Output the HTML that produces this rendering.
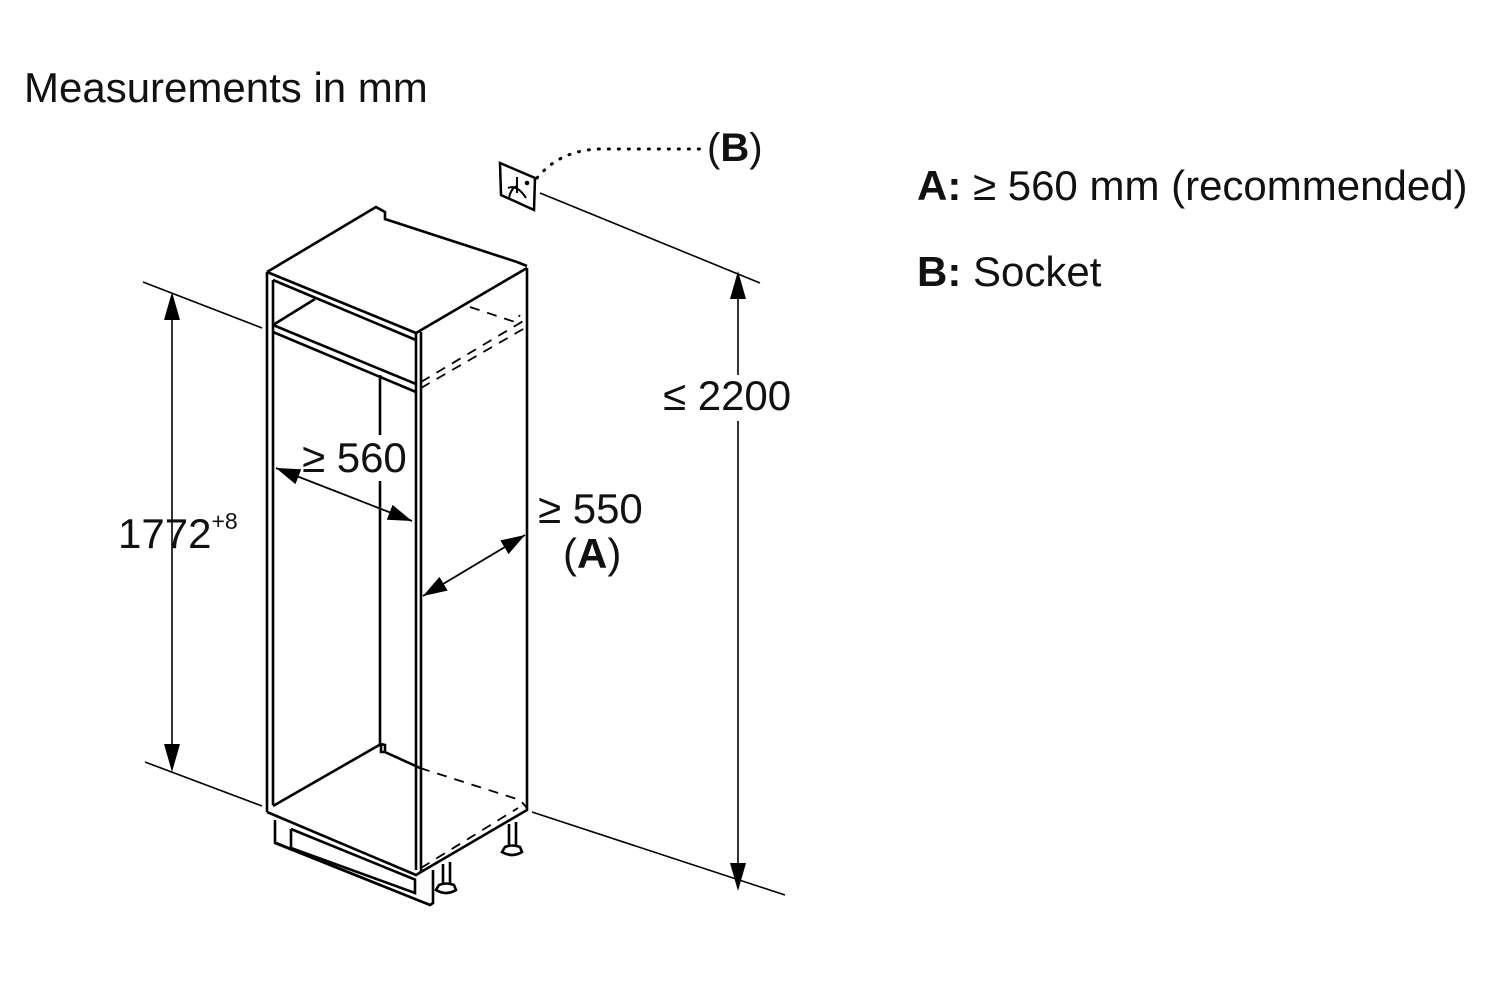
<!DOCTYPE html>
<html><head><meta charset="utf-8"><style>
html,body{margin:0;padding:0;background:#fff;}
svg{display:block}
text{font-family:"Liberation Sans",Arial,sans-serif;fill:#111}
</style></head><body>
<svg width="1500" height="1000" viewBox="0 0 1500 1000" xmlns="http://www.w3.org/2000/svg">
<defs>
<marker id="ar" viewBox="0 0 10 10" refX="10" refY="5" markerWidth="24" markerHeight="16" markerUnits="userSpaceOnUse" orient="auto-start-reverse" preserveAspectRatio="none">
<path d="M0,0 L10,5 L0,10 z" fill="#000"/></marker>
</defs>

<g stroke="#000" fill="none" stroke-width="1.6">
<!-- dimension lines -->
<line x1="143" y1="282" x2="262" y2="328"/>
<line x1="145" y1="762" x2="262" y2="806"/>
<line x1="172" y1="760" x2="172" y2="306"/>
<path d="M172,292 L164,320 L180,320 z" fill="#000" stroke="none"/>
<path d="M172,772 L164,744 L180,744 z" fill="#000" stroke="none"/>
<line x1="540" y1="193" x2="760" y2="283"/>
<line x1="532" y1="812" x2="785" y2="895"/>
<line x1="738" y1="285" x2="738" y2="878"/>
<path d="M738,271 L730,299 L746,299 z" fill="#000" stroke="none"/>
<path d="M738,891 L730,863 L746,863 z" fill="#000" stroke="none"/>
<!-- socket -->
<path d="M500,163 L535,178 L534,210 L501,195 Z" stroke-width="2.5"/>
<path d="M517,177 L517,193 M508,188 Q517,184 526,198 M509,198 Q511,188 517,186" stroke-width="2"/>
<circle cx="527" cy="183" r="1.5" fill="#000"/>
<path d="M537,178 Q560,150 600,149 L705,149" stroke-width="3" stroke-dasharray="1 9" stroke-linecap="round"/>
</g>

<g stroke="#000" fill="none" stroke-width="2.6" stroke-linejoin="miter">
<path d="M267,272 L376,207 L385,212 L385,219 L517,262 L527,266"/>
<path d="M267,272 L416,333 L527,268"/>
<path d="M267,272 L267,812 M273,280 L273,805"/>
<path d="M273,280 L416,340"/>
<path d="M416,333 L416,870 M421,332 L421,872"/>
<path d="M527,268 L527,810 L421,872"/>
<path d="M267,812 L416,875 L421,872"/>
<path d="M273,325 L315,299 M273,325 L416,384 M273,332 L416,392"/>
<path d="M380,375 L380,745"/>
<path d="M273,806 L381,744 L385,745 L385,752 L420,768 M381,744 L381,752 L385,752"/>
<path d="M275,820 L275,843 L430,905 L433,903 L433,870 M276,843 L430,905"/>
<path d="M291,829 L291,848 L415,893 L415,880 M291,829 L416,880"/>
<path d="M443,864 L443,885 M450,862 L450,885 M439,885 Q446,882 454,885 L456,890 Q446,896 436,890 Z"/>
<path d="M509,824 L509,847 M516,822 L516,847 M505,847 Q512,844 520,847 L522,852 Q512,858 502,852 Z"/>
</g>
<g stroke="#000" fill="none" stroke-width="1.8" stroke-dasharray="10 8">
<path d="M470,307 L515,322 L520,315"/>
<path d="M421,382 L525,320 M421,388 L525,328"/>
<path d="M420,768 L520,800 L527,808"/>
<path d="M421,868 L518,808"/>
</g>
<!-- label backgrounds -->
<rect x="660" y="375" width="135" height="46" fill="#fff"/>
<rect x="300" y="435" width="110" height="46" fill="#fff"/>
<g stroke="#000" stroke-width="1.8">
<line x1="276" y1="468" x2="412" y2="521" marker-start="url(#ar)" marker-end="url(#ar)"/>
<line x1="423" y1="596" x2="525" y2="535" marker-start="url(#ar)" marker-end="url(#ar)"/>
</g>

<text x="24" y="102" font-size="42">Measurements in mm</text>
<text x="707" y="161" font-size="40"><tspan>(</tspan><tspan font-weight="bold">B</tspan><tspan>)</tspan></text>
<text x="917" y="200" font-size="42"><tspan font-weight="bold">A:</tspan> ≥ 560 mm (recommended)</text>
<text x="917" y="286" font-size="42"><tspan font-weight="bold">B:</tspan> Socket</text>
<text x="663" y="410" font-size="42">≤ 2200</text>
<text x="302" y="472" font-size="42">≥ 560</text>
<text x="538" y="523" font-size="42">≥ 550</text>
<text x="563" y="568" font-size="42">(<tspan font-weight="bold">A</tspan>)</text>
<text x="118" y="548" font-size="42">1772<tspan font-size="23" dy="-19">+8</tspan></text>
</svg>
</body></html>
